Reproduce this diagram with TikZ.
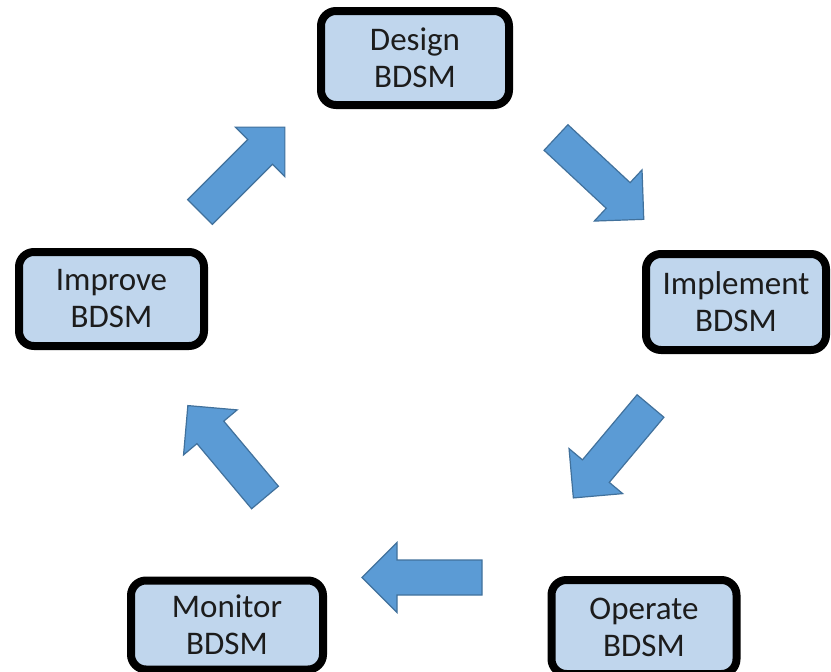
\documentclass[tikz,border=0pt]{standalone}
\usepackage{fontspec}
\setmainfont{Carlito}
\definecolor{boxfill}{RGB}{192,214,237}
\definecolor{arrowfill}{RGB}{91,155,213}
\definecolor{arrowline}{RGB}{65,113,156}
\definecolor{textdark}{RGB}{28,28,28}
\tikzset{
  stage/.style={draw=black, line width=8pt, fill=boxfill, rounded corners=15pt,
    minimum width=188pt, minimum height=94pt, inner sep=0pt, align=center,
    text=textdark, font=\fontsize{33}{37}\selectfont},
  pics/blockarrow/.style={code={
    \filldraw[fill=arrowfill, draw=arrowline, line width=1.2pt, line join=miter]
      (0,-17.5) -- (85,-17.5) -- (85,-35) -- (120,0) -- (85,35) -- (85,17.5)
      -- (0,17.5) -- cycle;
  }}
}
\begin{document}
\begin{tikzpicture}[x=1pt, y=-1pt]
  \useasboundingbox[fill=white] (0,0) rectangle (831,672);

  % process stages
  \node[stage] (design)    at (415,58)  {Design\\BDSM};
  \node[stage, minimum width=180pt, minimum height=96pt] (implement) at (736,302) {Implement\\BDSM};
  \node[stage, minimum width=185pt] (operate)   at (644,627) {Operate\\BDSM};
  \node[stage, minimum width=192pt, minimum height=89pt] (monitor)   at (227,625) {Monitor\\BDSM};
  \node[stage, minimum width=185pt] (improve)   at (111.5,299) {Improve\\BDSM};

  % block arrows between the stages (placed at tail centre, rotated)
  \pic[rotate=45]  at (200,212)   {blockarrow};
  \pic[rotate=-43] at (556,137.5) {blockarrow};
  \pic[rotate=230] at (650.5,406) {blockarrow};
  \pic[rotate=180] at (482,577.5) {blockarrow};
  \pic[rotate=130] at (265,497.5) {blockarrow};
\end{tikzpicture}
\end{document}
